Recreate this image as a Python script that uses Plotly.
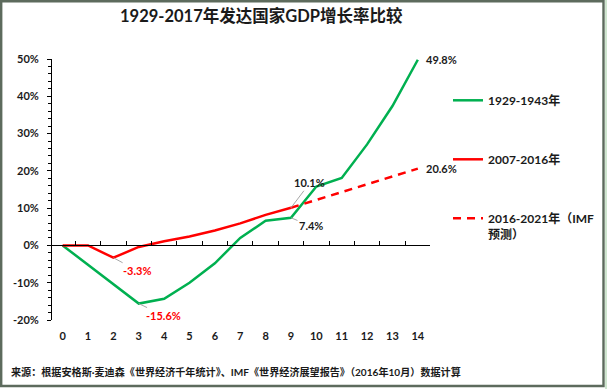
import plotly.graph_objects as go

# ---- data ----
x_cat = list(range(15))
tick_labels = [str(i) for i in x_cat]
green_1929_1943 = [0, -5.2, -10.4, -15.6, -14.3, -10.0, -4.8, 2.0, 6.6, 7.4, 15.8, 18.1, 27.1, 37.4, 49.8]
x_2007_2016 = list(range(10))
red_2007_2016 = [0, 0, -3.3, -0.4, 1.1, 2.4, 4.0, 5.9, 8.2, 10.1]
x_2016_2021 = list(range(9, 15))
red_2016_2021 = [10.1, 12.2, 14.3, 16.4, 18.5, 20.6]
y_ticks = [-20, -10, 0, 10, 20, 30, 40, 50]
y_tick_labels = [f"{v}%" for v in y_ticks]

W, H = 607, 389
ML, MR, MT, MB = 52, 177, 59, 69
PW, PH = W - ML - MR, H - MT - MB
Y_MIN, Y_MAX = -20, 50


def px_x(p):
    return (p - ML) / PW


def px_y(p):
    return (H - MB - p) / PH


FONT = "Lato, 'Noto Sans CJK SC', sans-serif"
TXT = "#1a1a1a"
GREEN = "#00B050"
RED = "#FF0000"

fig = go.Figure()
fig.add_trace(go.Scatter(x=x_cat, y=green_1929_1943, mode="lines", name="1929-1943年",
                         line=dict(color=GREEN, width=2.5), legendgroup="a"))
fig.add_trace(go.Scatter(x=x_2007_2016, y=red_2007_2016, mode="lines", name="2007-2016年",
                         line=dict(color=RED, width=2.5), legendgroup="b"))
fig.add_trace(go.Scatter(x=x_2016_2021, y=red_2016_2021, mode="lines", name="2016-2021年（IMF<br>预测）",
                         line=dict(color=RED, width=2.5, dash="8px,6px"), legendgroup="c"))
# helper trace for the zero-crossing category axis
fig.add_trace(go.Scatter(x=[None], y=[None], xaxis="x2", showlegend=False, hoverinfo="skip"))

xr = [-0.42, 14.48]
fig.update_layout(
    width=W, height=H,
    margin=dict(l=ML, r=MR, t=MT, b=MB, autoexpand=False),
    paper_bgcolor="white", plot_bgcolor="white",
    font=dict(family=FONT, color=TXT, size=11),
    xaxis=dict(range=xr, tickvals=x_cat, ticktext=tick_labels, showline=False, zeroline=False,
               showgrid=False, ticks="", ticklabelstandoff=8, automargin=False,
               tickfont=dict(family=FONT, size=11, color=TXT, weight="bold")),
    xaxis2=dict(range=xr, overlaying="x", anchor="free", position=(0 - Y_MIN) / (Y_MAX - Y_MIN),
                showline=True, linecolor="black", linewidth=1, ticks="inside", ticklen=4,
                tickcolor="black", tickvals=[i + 0.5 for i in x_cat[:-1]], showticklabels=False,
                showgrid=False, zeroline=False),
    yaxis=dict(range=[Y_MIN, Y_MAX], tickvals=y_ticks, ticktext=y_tick_labels, showline=True,
               linecolor="black", linewidth=1, ticks="outside", ticklen=4, tickcolor="black",
               showgrid=False, zeroline=False, ticklabelstandoff=6, automargin=False,
               minor=dict(dtick=2, ticks="outside", ticklen=3, tickcolor="black", showgrid=False),
               tickfont=dict(family=FONT, size=11, color=TXT, weight="bold")),
    legend=dict(x=px_x(448), y=px_y(86), xanchor="left", yanchor="top", valign="top",
                tracegroupgap=40, bgcolor="rgba(0,0,0,0)",
                font=dict(family=FONT, size=12, color=TXT, weight="bold")),
    showlegend=True,
)

# title and source
fig.add_annotation(text="1929-2017年发达国家GDP增长率比较", xref="paper", yref="paper",
                   x=px_x(261), y=px_y(16), xanchor="center", yanchor="middle", showarrow=False,
                   font=dict(family=FONT, size=16.5, color=TXT, weight="bold"))
fig.add_annotation(text="来源：根据安格斯·麦迪森《世界经济千年统计》、IMF《世界经济展望报告》（2016年10月）数据计算",
                   xref="paper", yref="paper", x=px_x(9), y=px_y(372), xanchor="left", yanchor="middle",
                   showarrow=False, font=dict(family=FONT, size=10.1, color=TXT, weight="bold"))

# data labels
lab_font_dark = dict(family=FONT, size=11, color=TXT, weight="bold")
lab_font_red = dict(family=FONT, size=11, color=RED, weight="bold")
fig.add_annotation(x=14, y=green_1929_1943[14], text="49.8%", showarrow=False, xanchor="left",
                   xshift=6, font=lab_font_dark)
fig.add_annotation(x=14, y=red_2016_2021[-1], text="20.6%", showarrow=False, xanchor="left",
                   xshift=6, font=lab_font_dark)
arrow_kw = dict(showarrow=True, arrowhead=0, arrowwidth=1, arrowcolor="#A6A6A6", standoff=0)
fig.add_annotation(x=9, y=red_2007_2016[9], text="10.1%", ax=19, ay=-25, font=lab_font_dark, **arrow_kw)
fig.add_annotation(x=9, y=green_1929_1943[9], text="7.4%", ax=20, ay=8, font=lab_font_dark, **arrow_kw)
fig.add_annotation(x=2, y=red_2007_2016[2], text="-3.3%", ax=24, ay=13, font=lab_font_red, **arrow_kw)
fig.add_annotation(x=3, y=green_1929_1943[3], text="-15.6%", ax=25, ay=12, font=lab_font_red, **arrow_kw)

# outer frame
fig.add_shape(type="rect", xref="paper", yref="paper", x0=px_x(605), x1=px_x(607), y0=px_y(389), y1=px_y(0),
              line=dict(width=0), fillcolor="#cfe6cf", layer="below")
fig.add_shape(type="rect", xref="paper", yref="paper", x0=px_x(1.2), x1=px_x(603.5), y0=px_y(386), y1=px_y(1.2),
              line=dict(color="#5d6b5d", width=2.4), fillcolor="rgba(0,0,0,0)")

fig.write_html("out.html", config={"displayModeBar": False},
               post_script="document.body.style.margin='0';document.body.style.overflow='hidden';")
